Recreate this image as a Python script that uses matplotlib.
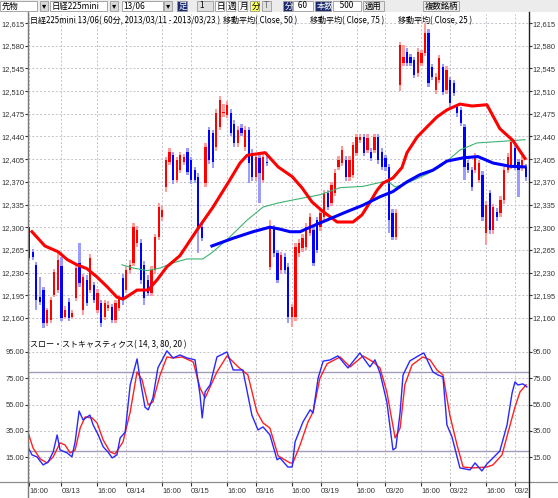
import matplotlib
matplotlib.use("Agg")
import matplotlib.pyplot as plt
from matplotlib.patches import Rectangle
from matplotlib.lines import Line2D
from matplotlib.transforms import ScaledTranslation

# ---- price data (60-minute bars, 日経225mini 13/06) ----
opens = [12300, 12262, 12242, 12192, 12203, 12152, 12157, 12196, 12203, 12240,
         12162, 12185, 12162, 12191, 12245, 12172, 12219, 12203, 12211, 12172,
         12183, 12162, 12176, 12177, 12157, 12175, 12222, 12203, 12234, 12245,
         12276, 12276, 12242, 12219, 12199, 12234, 12285, 12316, 12362, 12401,
         12411, 12373, 12389, 12401, 12416, 12404, 12388, 12378, 12300, 12368,
         12450, 12445, 12424, 12455, 12476, 12473, 12476, 12460, 12430, 12453,
         12424, 12450, 12415, 12378, 12407, 12373, 12401, 12239, 12299, 12260,
         12234, 12254, 12239, 12162, 12162, 12260, 12268, 12270, 12291, 12296,
         12311, 12300, 12316, 12353, 12337, 12353, 12393, 12399, 12404, 12378,
         12381, 12415, 12435, 12439, 12419, 12416, 12419, 12439, 12416, 12407,
         12393, 12322, 12285, 12520, 12553, 12570, 12563, 12558, 12538, 12553,
         12569, 12600, 12547, 12512, 12527, 12547, 12512, 12527, 12522, 12485,
         12481, 12455, 12399, 12388, 12388, 12373, 12381, 12291, 12353, 12296,
         12324, 12322, 12342, 12388, 12396, 12422, 12401, 12391, 12393]
closes = [12253, 12254, 12188, 12185, 12152, 12172, 12188, 12231, 12250, 12160,
          12172, 12160, 12168, 12237, 12214, 12223, 12183, 12253, 12188, 12199,
          12152, 12183, 12180, 12157, 12183, 12190, 12188, 12234, 12242, 12300,
          12296, 12219, 12191, 12199, 12234, 12285, 12331, 12327, 12404, 12416,
          12373, 12404, 12411, 12408, 12385, 12373, 12373, 12296, 12283, 12424,
          12404, 12400, 12476, 12496, 12478, 12489, 12445, 12430, 12450, 12445,
          12450, 12399, 12378, 12409, 12384, 12409, 12399, 12300, 12260, 12219,
          12257, 12234, 12162, 12177, 12270, 12276, 12283, 12300, 12316, 12245,
          12265, 12322, 12353, 12331, 12365, 12384, 12404, 12419, 12378, 12404,
          12427, 12439, 12439, 12415, 12438, 12407, 12439, 12404, 12393, 12393,
          12311, 12285, 12322, 12581, 12563, 12553, 12553, 12535, 12570, 12569,
          12600, 12522, 12532, 12532, 12561, 12509, 12543, 12492, 12507, 12476,
          12461, 12393, 12388, 12362, 12409, 12399, 12316, 12334, 12296, 12331,
          12316, 12342, 12388, 12409, 12432, 12393, 12388, 12404, 12378]
highs = [12300, 12266, 12246, 12223, 12208, 12176, 12192, 12236, 12262, 12254,
         12178, 12190, 12172, 12242, 12276, 12228, 12226, 12258, 12216, 12204,
         12188, 12188, 12186, 12182, 12188, 12196, 12228, 12240, 12250, 12306,
         12302, 12282, 12248, 12226, 12240, 12290, 12337, 12332, 12409, 12422,
         12416, 12409, 12416, 12413, 12422, 12409, 12393, 12384, 12306, 12430,
         12455, 12450, 12482, 12502, 12490, 12495, 12482, 12466, 12456, 12460,
         12456, 12455, 12420, 12414, 12412, 12414, 12410, 12311, 12304, 12265,
         12262, 12260, 12244, 12182, 12276, 12282, 12290, 12306, 12322, 12302,
         12316, 12328, 12358, 12358, 12370, 12390, 12410, 12425, 12410, 12410,
         12432, 12444, 12444, 12444, 12444, 12422, 12444, 12444, 12422, 12412,
         12398, 12328, 12328, 12586, 12581, 12576, 12568, 12563, 12576, 12574,
         12615, 12606, 12552, 12538, 12566, 12552, 12548, 12532, 12527, 12490,
         12486, 12460, 12404, 12393, 12414, 12404, 12386, 12340, 12358, 12336,
         12330, 12348, 12393, 12414, 12438, 12428, 12406, 12410, 12398]
lows = [12248, 12250, 12172, 12180, 12145, 12148, 12152, 12192, 12198, 12155,
        12158, 12155, 12158, 12186, 12208, 12165, 12178, 12198, 12183, 12168,
        12146, 12157, 12170, 12152, 12152, 12170, 12180, 12198, 12228, 12240,
        12270, 12212, 12180, 12194, 12194, 12228, 12280, 12310, 12355, 12396,
        12366, 12368, 12384, 12396, 12380, 12366, 12368, 12260, 12278, 12362,
        12398, 12392, 12418, 12450, 12470, 12468, 12440, 12424, 12424, 12440,
        12418, 12368, 12372, 12372, 12337, 12368, 12394, 12234, 12254, 12214,
        12228, 12228, 12152, 12146, 12156, 12254, 12262, 12265, 12286, 12240,
        12260, 12294, 12310, 12326, 12332, 12348, 12388, 12394, 12372, 12372,
        12376, 12410, 12430, 12410, 12414, 12402, 12414, 12398, 12388, 12386,
        12291, 12280, 12280, 12510, 12548, 12548, 12548, 12530, 12532, 12548,
        12564, 12516, 12527, 12506, 12522, 12504, 12506, 12486, 12502, 12470,
        12456, 12373, 12383, 12356, 12383, 12368, 12310, 12273, 12290, 12290,
        12310, 12316, 12336, 12383, 12390, 12388, 12347, 12386, 12372]

# moving averages (bar position, value)
ma25_x = [0.8, 4.4, 8.1, 10.6, 13.3, 16.1, 18.9, 21.7, 24.4, 26.1, 28.1, 30.0, 33.1,
          35.6, 38.3, 41.9, 46.7, 51.1, 55.8, 58.6, 60.6, 65.6, 69.2, 73.1, 75.8,
          78.6, 81.7, 85.6, 90.0, 92.5, 94.2, 96.7, 98.3, 101.1, 103.6, 105.0,
          107.8, 110.6, 113.3, 116.1, 119.7, 123.1, 127.2, 130.8, 134.4, 137.8]
ma25_y = [12293, 12271, 12262, 12250, 12242, 12236, 12223, 12208, 12192, 12189,
          12196, 12203, 12203, 12219, 12239, 12256, 12296, 12331, 12373, 12399,
          12411, 12415, 12393, 12378, 12361, 12339, 12324, 12308, 12308, 12319,
          12334, 12357, 12368, 12376, 12392, 12415, 12439, 12455, 12470, 12481,
          12490, 12487, 12489, 12452, 12434, 12406]
ma50_x = [50.8, 56.7, 62.2, 66.9, 69.7, 72.5, 75.3, 78.9, 83.6, 88.3, 92.8, 97.5,
          101.1, 105.0, 108.6, 112.2, 116.1, 120.6, 124.7, 128.9, 133.6, 137.8]
ma50_y = [12271, 12283, 12293, 12300, 12297, 12293, 12293, 12302, 12313, 12324,
          12334, 12347, 12355, 12370, 12381, 12388, 12402, 12407, 12409, 12399,
          12394, 12393]
ma75_x = [25.8, 28.9, 32.8, 36.4, 40.0, 43.9, 48.3, 51.1, 55.8, 60.6, 65.0, 68.9,
          73.3, 80.8, 86.4, 92.8, 98.3, 100.3, 101.7, 105.0, 110.6, 114.2, 119.7,
          124.4, 130.0, 137.8]
ma75_y = [12242, 12237, 12233, 12237, 12245, 12251, 12251, 12262, 12285, 12311,
          12331, 12337, 12342, 12350, 12361, 12363, 12370, 12368, 12362, 12368,
          12382, 12393, 12419, 12430, 12432, 12435]

# slow stochastics (14, 3, 80, 20)
k_x = [-0.3, 0.8, 2.2, 3.9, 5.3, 6.7, 7.8, 8.6, 10.6, 11.9, 12.8, 13.9, 15.0, 16.9,
       17.8, 19.2, 20.6, 21.9, 23.1, 24.4, 25.3, 26.7, 28.1, 30.0, 30.8, 32.2, 33.1,
       34.4, 35.8, 38.3, 40.0, 41.9, 43.9, 46.1, 47.5, 48.1, 48.9, 50.3, 52.2, 55.0,
       56.7, 59.4, 61.9, 63.6, 65.0, 66.9, 68.9, 69.7, 71.9, 73.1, 73.9, 76.1, 78.1,
       78.9, 80.3, 81.7, 83.6, 85.8, 88.6, 91.9, 94.7, 96.1, 97.5, 99.4, 101.1,
       101.9, 103.1, 103.9, 105.8, 108.6, 109.7, 112.2, 113.6, 115.0, 116.1, 117.5,
       119.7, 122.5, 123.9, 125.8, 127.2, 128.9, 130.8, 132.8, 134.2, 135.0, 135.8,
       137.2, 138.3]
k_y = [22.8, 16.7, 15.2, 9.1, 11.3, 19.0, 31.9, 20.5, 18.2, 15.2, 26.6, 50.1, 43.3,
       47.0, 39.5, 32.0, 22.8, 19.0, 14.4, 16.7, 29.6, 34.0, 70.0, 89.7, 75.0, 53.0,
       51.0, 60.0, 83.0, 95.8, 90.4, 92.7, 90.4, 89.0, 62.3, 44.8, 64.6, 70.0, 91.2,
       95.0, 81.3, 81.3, 47.0, 35.7, 38.0, 32.0, 13.0, 14.4, 7.5, 7.5, 26.6, 41.8,
       51.0, 48.6, 75.0, 88.0, 88.9, 92.0, 82.8, 94.2, 83.6, 89.0, 79.0, 57.0, 20.5,
       22.0, 49.4, 77.5, 88.2, 92.7, 94.2, 79.8, 77.5, 76.0, 39.5, 30.4, 6.8, 5.3,
       10.6, 4.5, 9.8, 14.4, 19.7, 39.5, 63.8, 72.2, 69.9, 70.7, 68.4]
d_x = [-0.3, 1.1, 3.1, 5.0, 6.7, 8.6, 10.0, 11.4, 12.8, 14.2, 15.6, 17.5, 18.9, 20.6,
       22.5, 23.9, 26.1, 28.1, 30.0, 31.4, 33.1, 34.4, 36.4, 38.3, 40.0, 42.5, 45.6,
       47.5, 48.9, 52.2, 55.0, 58.1, 60.8, 63.3, 65.0, 66.9, 69.2, 72.5, 73.3, 75.3,
       77.5, 78.9, 80.8, 82.8, 86.4, 89.2, 92.8, 95.6, 97.5, 99.4, 101.7, 103.1,
       104.4, 106.4, 109.4, 111.4, 113.3, 115.0, 116.9, 118.9, 120.6, 123.3, 127.2,
       128.9, 131.4, 133.1, 135.0, 136.4, 138.1]
d_y = [34.0, 22.0, 13.6, 10.6, 15.2, 25.8, 24.3, 18.2, 20.5, 37.2, 45.6, 44.8, 41.0,
       28.0, 19.0, 17.4, 26.6, 49.4, 79.8, 73.7, 54.7, 57.0, 77.5, 91.2, 90.4, 91.2,
       87.4, 67.6, 60.0, 79.8, 92.0, 83.6, 77.5, 49.4, 41.0, 37.2, 16.0, 10.6, 10.6,
       24.3, 41.8, 49.4, 75.0, 86.0, 91.2, 83.6, 92.0, 87.4, 82.8, 64.6, 29.6, 37.2,
       70.0, 85.1, 91.2, 89.0, 81.3, 77.5, 47.0, 24.3, 7.5, 6.8, 7.5, 9.1, 16.7,
       34.0, 53.0, 64.6, 70.0]

price_ticks = [12160, 12195, 12230, 12265, 12300, 12335, 12370, 12405, 12440,
               12475, 12510, 12545, 12580, 12615]
stoch_ticks = [15, 35, 55, 75, 95]
date_pos = [0, 9, 19, 27, 37, 45, 55, 63, 73, 81, 91, 99, 109, 117, 127, 135]
date_labels = ['16:00', '03/13', '16:00', '03/14', '16:00', '03/15', '16:00', '03/16',
               '16:00', '03/19', '16:00', '03/20', '16:00', '03/22', '16:00', '03/2']

W, H = 558, 498
fig = plt.figure(figsize=(W / 100, H / 100), dpi=100)
fig.patch.set_facecolor('white')
JP = ['Noto Sans CJK JP', 'DejaVu Sans']
NUM = 'Liberation Sans'
TICK_FS = 5.4


def fx(x):
    return x / W


def fy(y):
    return 1 - y / H


def box(x, y, w, h, fc, ec='#9a9a9a'):
    fig.add_artist(Rectangle((fx(x), fy(y + h)), w / W, h / H, transform=fig.transFigure,
                             facecolor=fc, edgecolor=ec, lw=0.6))


# ---- toolbar ----
box(0, 0, 558, 12, '#ececec', ec='none')
widgets = [(0, 1, 37, 10, 'white', '先物', 'k'), (40, 1, 8, 10, '#d8d8d8', '▾', 'k'),
           (50, 1, 57, 10, 'white', '日経225mini', 'k'), (110, 1, 8, 10, '#d8d8d8', '▾', 'k'),
           (122, 1, 41, 10, 'white', '13/06', 'k'), (164, 1, 8, 10, '#d8d8d8', '▾', 'k'),
           (177, 1, 10, 10, '#1c2a6e', '足', 'white'), (197, 1, 16, 10, '#e0e0e0', ' 1', 'k'),
           (215, 1, 9, 10, 'white', '日', 'k'), (226, 1, 9, 10, 'white', '週', 'k'),
           (238, 1, 9, 10, 'white', '月', 'k'), (250, 1, 9, 10, '#ffff60', '分', 'k'),
           (262, 1, 9, 10, '#e0e0e0', 'T', '#666666'), (283, 1, 9, 10, '#1c2a6e', '分', 'white'),
           (293, 1, 20, 10, 'white', '  60', 'k'), (315, 1, 16, 10, '#1c2a6e', '本数', 'white'),
           (333, 1, 28, 10, 'white', '   500', 'k'), (363, 1, 21, 10, '#e8e8e8', '適用', 'k'),
           (423, 1, 36, 10, '#e8e8e8', '複数銘柄', 'k')]
for x, y, w, h, fc, label, tc in widgets:
    box(x, y, w, h, fc)
    fig.text(fx(x + 1.5), fy(y + h / 2), label, ha='left', va='center', fontsize=6,
             color=tc, family=JP)

# ---- price panel ----
ax = fig.add_axes([fx(28), fy(338), (529 - 28) / W, (338 - 14) / H])
ax.set_xlim(-0.3, 138.9)
ax.set_ylim(12129, 12629)
for i in range(len(opens)):
    o, c, hi, lo = opens[i], closes[i], highs[i], lows[i]
    up = c >= o
    light = '#ff9c9c' if up else '#9c9cff'
    dark = '#ff0000' if up else '#0000ff'
    ax.bar(i, hi - lo, bottom=lo, width=0.62, color=light, linewidth=0, zorder=2)
    bot = min(o, c)
    ax.bar(i, max(abs(c - o), 2.0), bottom=bot, width=0.62, color=dark, linewidth=0, zorder=3)

ax.plot(ma75_x, ma75_y, color='#3cb371', lw=0.8, zorder=4)
ax.plot(ma25_x, ma25_y, color='#ff0000', lw=2.2, zorder=5)
ax.plot(ma50_x, ma50_y, color='#0000ff', lw=2.2, zorder=5)

ax.set_yticks(price_ticks)
ax.set_yticklabels([f'{v:,}' for v in price_ticks], family=NUM, fontsize=TICK_FS)
ax.set_xticks(date_pos)
ax.set_xticklabels([])
ax.tick_params(axis='y', left=True, right=True, labelleft=True, labelright=True,
               direction='out', length=2.2, width=0.8, pad=0.6, colors='#333333')
ax.tick_params(axis='x', length=0)
ax.grid(True, color='#c4c0cc', lw=0.7, linestyle=(0, (2, 2)))
ax.set_axisbelow(True)
for s in ax.spines.values():
    s.set_visible(False)
ax.text(0.004, 0.993, '日経225mini 13/06( 60分, 2013/03/11 - 2013/03/23 )',
        transform=ax.transAxes, ha='left', va='top', fontsize=5.8, family=JP)
for xp, label in [(0.389, '移動平均( Close, 50 )'), (0.563, '移動平均( Close, 75 )'),
                  (0.739, '移動平均( Close, 25 )')]:
    ax.text(xp, 0.993, label, transform=ax.transAxes, ha='left', va='top',
            fontsize=5.8, family=JP)

# ---- stochastics panel ----
ax2 = fig.add_axes([fx(28), fy(482), (529 - 28) / W, (482 - 338) / H])
ax2.set_xlim(-0.3, 138.9)
ax2.set_ylim(-3.9, 105.6)
ax2.axhline(80, color='#a29cb8', lw=1.0, zorder=2)
ax2.axhline(20, color='#a29cb8', lw=1.0, zorder=2)
ax2.plot(d_x, d_y, color='#ff2020', lw=1.0, zorder=3)
ax2.plot(k_x, k_y, color='#2828ff', lw=1.0, zorder=4)
ax2.set_yticks(stoch_ticks)
ax2.set_yticklabels([f'{v:.2f}' for v in stoch_ticks], family=NUM, fontsize=TICK_FS)
ax2.set_xticks(date_pos)
ax2.set_xticklabels(date_labels, family=NUM, fontsize=TICK_FS, ha='left')
shift = ScaledTranslation(3 / 100, 0, fig.dpi_scale_trans)
for lab in ax2.get_xticklabels():
    lab.set_transform(lab.get_transform() + shift)
ax2.tick_params(axis='y', left=True, right=True, labelleft=True, labelright=True,
                direction='out', length=2.2, width=0.8, pad=0.6, colors='#333333')
ax2.tick_params(axis='x', direction='out', length=3, width=0.8, pad=1.5, colors='#333333')
ax2.grid(True, color='#c4c0cc', lw=0.7, linestyle=(0, (2, 2)))
ax2.set_axisbelow(True)
for s in ax2.spines.values():
    s.set_visible(False)
ax2.text(0.004, 0.985, 'スロー・ストキャスティクス( 14, 3, 80, 20 )', transform=ax2.transAxes,
         ha='left', va='top', fontsize=5.8, family=JP)

# frame lines
fig.add_artist(Line2D([0, 1], [fy(482), fy(482)], color='#8c8c8c', lw=0.9))
fig.add_artist(Line2D([fx(28), fx(28)], [fy(12), 0], color='#7a7a7a', lw=1.0))
fig.add_artist(Line2D([fx(529), fx(529)], [fy(12), 0], color='#202020', lw=1.0))

fig.savefig('out.png', dpi=100)
